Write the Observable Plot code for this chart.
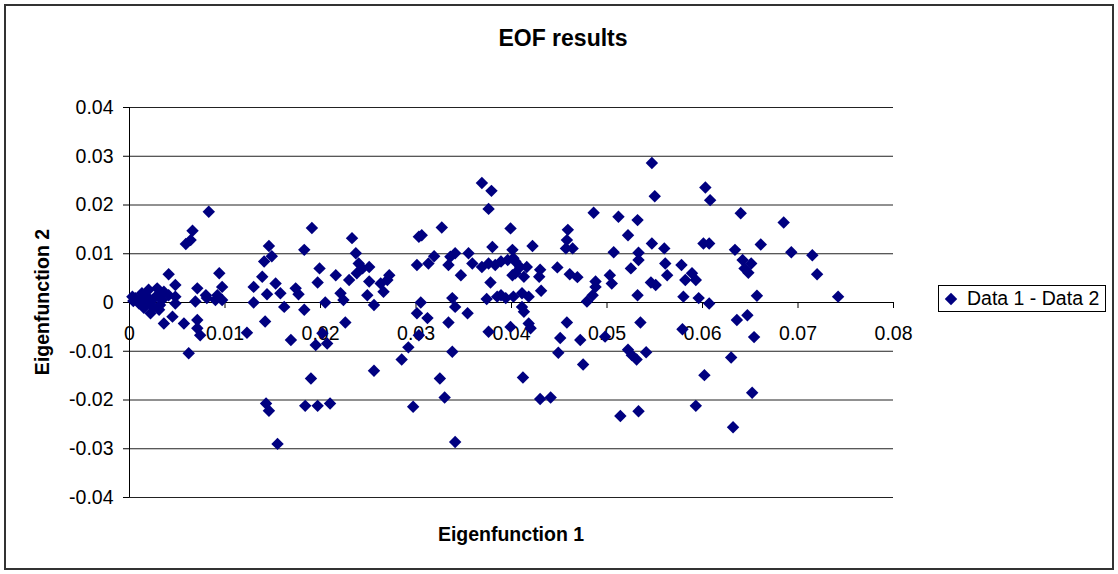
<!DOCTYPE html>
<html>
<head>
<meta charset="utf-8">
<script src="https://cdn.jsdelivr.net/npm/d3@7"></script>
<script src="https://cdn.jsdelivr.net/npm/@observablehq/plot@0.6"></script>
<style>
  html, body { margin: 0; padding: 0; background: #fff; }
  #wrap { position: relative; width: 1118px; height: 574px; font-family: "Liberation Sans", Arial, sans-serif; color: #000; }
  #frame { position: absolute; left: 4px; top: 4px; width: 1106px; height: 562px; border: 2px solid #333; }
  #chart { position: absolute; left: 0; top: 0; }
  .title { position: absolute; font-weight: bold; white-space: nowrap; }
  #legend { position: absolute; left: 938px; top: 285px; width: 166px; height: 25px; border: 1px solid #000; background: #fff;
            display: flex; align-items: center; font-size: 19.5px; white-space: nowrap; }
</style>
</head>
<body>
<div id="wrap">
  <div id="frame"></div>
  <div id="chart"></div>
  <div class="title" id="t" style="left:563px; top:38px; transform:translate(-50%,-50%); font-size:23px;">EOF results</div>
  <div class="title" id="xl" style="left:511px; top:534px; transform:translate(-50%,-50%); font-size:19.5px;">Eigenfunction 1</div>
  <div class="title" id="yl" style="left:42px; top:302px; transform:translate(-50%,-50%) rotate(-90deg); font-size:19.5px;">Eigenfunction 2</div>
  <div id="legend"><svg width="26" height="20" style="margin-left:2px"><path id="legsym" fill="#000080"></path></svg><span>Data 1 - Data 2</span></div>
</div>
<script>
const seriesName = "Data 1 - Data 2";
const eigen1 = [
0.0003,0.0006,0.0010,0.0013,0.0017,0.0020,0.0022,0.0025,0.0029,0.0029,0.0031,0.0034,0.0036,0.0012,0.0004,0.0019,0.0024,0.0015,0.0032,0.0041,
0.0048,0.0048,0.0048,0.0041,0.0071,0.0069,0.0080,0.0090,0.0097,0.0094,0.0097,0.0036,0.0045,0.0057,0.0071,0.0071,0.0074,0.0062,0.0081,0.0083,
0.0066,0.0059,0.0064,0.0092,0.0130,0.0130,0.0139,0.0141,0.0146,0.0149,0.0144,0.0153,0.0158,0.0162,0.0174,0.0177,0.0183,0.0191,0.0199,0.0197,
0.0183,0.0123,0.0142,0.0169,0.0195,0.0190,0.0143,0.0146,0.0155,0.0184,0.0197,0.0205,0.0216,0.0221,0.0224,0.0230,0.0233,0.0237,0.0240,0.0244,
0.0238,0.0251,0.0251,0.0249,0.0256,0.0263,0.0266,0.0272,0.0270,0.0226,0.0202,0.0207,0.0210,0.0256,0.0303,0.0306,0.0301,0.0313,0.0319,0.0327,
0.0305,0.0334,0.0336,0.0341,0.0347,0.0338,0.0341,0.0355,0.0359,0.0369,0.0379,0.0376,0.0380,0.0369,0.0376,0.0383,0.0389,0.0396,0.0378,0.0374,
0.0385,0.0394,0.0399,0.0401,0.0401,0.0301,0.0312,0.0303,0.0292,0.0285,0.0297,0.0334,0.0354,0.0338,0.0325,0.0330,0.0341,0.0376,0.0399,0.0404,
0.0389,0.0402,0.0409,0.0416,0.0404,0.0413,0.0411,0.0418,0.0402,0.0411,0.0422,0.0430,0.0429,0.0431,0.0448,0.0459,0.0458,0.0457,0.0464,0.0461,
0.0469,0.0486,0.0488,0.0488,0.0485,0.0479,0.0413,0.0418,0.0420,0.0412,0.0430,0.0441,0.0458,0.0451,0.0449,0.0472,0.0475,0.0498,0.0503,0.0505,
0.0507,0.0512,0.0522,0.0532,0.0533,0.0533,0.0525,0.0532,0.0547,0.0550,0.0547,0.0560,0.0561,0.0563,0.0546,0.0551,0.0578,0.0582,0.0589,0.0593,
0.0580,0.0596,0.0535,0.0522,0.0531,0.0541,0.0526,0.0514,0.0533,0.0579,0.0602,0.0593,0.0601,0.0607,0.0607,0.0603,0.0608,0.0640,0.0685,0.0634,
0.0661,0.0693,0.0715,0.0720,0.0642,0.0651,0.0644,0.0648,0.0657,0.0742,0.0636,0.0647,0.0654,0.0630,0.0652,0.0632
];
const eigen2 = [
0.0012,0.0009,-0.0002,0.0019,-0.0002,0.0026,-0.0022,-0.0009,0.0029,0.0015,-0.0015,0.0005,0.0022,0.0007,0.0003,0.0011,0.0005,-0.0011,-0.0005,0.0058,
0.0036,0.0012,-0.0002,0.0015,0.0029,0.0002,0.0015,0.0005,0.0032,0.0060,0.0005,-0.0043,-0.0029,-0.0043,-0.0036,-0.0053,-0.0067,-0.0104,0.0009,0.0186,
0.0147,0.0120,0.0128,0.0015,0.0032,0.0000,0.0053,0.0084,0.0116,0.0095,0.0017,0.0039,0.0019,-0.0009,0.0029,0.0017,0.0108,0.0153,0.0070,0.0041,
-0.0015,-0.0062,-0.0039,-0.0077,-0.0087,-0.0156,-0.0207,-0.0222,-0.0290,-0.0212,-0.0212,0.0000,0.0056,0.0019,0.0005,0.0046,0.0132,0.0101,0.0080,0.0070,
0.0060,0.0073,0.0043,0.0015,-0.0005,0.0039,0.0022,0.0056,0.0046,-0.0041,-0.0063,-0.0084,-0.0207,-0.0140,0.0135,0.0138,0.0077,0.0080,0.0095,0.0154,
0.0000,0.0077,0.0094,0.0101,0.0056,0.0009,-0.0009,0.0101,0.0080,0.0245,0.0229,0.0192,0.0114,0.0073,0.0080,0.0077,0.0084,0.0087,0.0041,0.0007,
0.0012,0.0009,0.0152,0.0108,0.0056,-0.0022,-0.0032,-0.0067,-0.0092,-0.0117,-0.0214,-0.0041,-0.0022,-0.0101,-0.0156,-0.0195,-0.0286,-0.0060,-0.0050,0.0084,
0.0015,0.0091,0.0073,0.0073,0.0060,0.0053,0.0019,0.0012,0.0012,-0.0009,0.0116,0.0067,0.0053,0.0024,0.0072,0.0149,0.0128,0.0111,0.0111,0.0058,
0.0052,0.0184,0.0043,0.0032,0.0015,0.0002,-0.0019,-0.0043,-0.0053,-0.0154,-0.0198,-0.0195,-0.0041,-0.0073,-0.0103,-0.0077,-0.0127,-0.0070,0.0056,0.0039,
0.0103,0.0176,0.0138,0.0169,0.0102,0.0087,0.0070,0.0015,0.0286,0.0218,0.0121,0.0111,0.0080,0.0056,0.0041,0.0036,0.0077,0.0046,0.0060,0.0046,
0.0012,0.0009,-0.0041,-0.0097,-0.0117,-0.0102,-0.0108,-0.0233,-0.0223,-0.0055,-0.0149,-0.0212,0.0121,0.0121,-0.0002,0.0236,0.0210,0.0183,0.0164,0.0108,
0.0119,0.0103,0.0097,0.0058,0.0087,0.0080,0.0070,0.0061,0.0014,0.0012,-0.0036,-0.0026,-0.0071,-0.0113,-0.0185,-0.0256
];
const xTicks = [0, 0.01, 0.02, 0.03, 0.04, 0.05, 0.06, 0.07, 0.08];
const xTickLabels = ["0", "0.01", "0.02", "0.03", "0.04", "0.05", "0.06", "0.07", "0.08"];
const yTicks = [-0.04, -0.03, -0.02, -0.01, 0, 0.01, 0.02, 0.03, 0.04];
const yTickLabels = ["-0.04", "-0.03", "-0.02", "-0.01", "0", "0.01", "0.02", "0.03", "0.04"];

const points = eigen1.map((x, i) => ({x, y: eigen2[i], series: seriesName}));
const FONT = "Liberation Sans, Arial, sans-serif";
const NAVY = "#000080";
const R = 5.6;

const chart = Plot.plot({
  width: 1118,
  height: 574,
  marginLeft: 129,
  marginRight: 225,
  marginTop: 107,
  marginBottom: 77,
  style: {fontFamily: FONT, background: "transparent", overflow: "visible"},
  x: {domain: [0, 0.08], axis: null},
  y: {domain: [-0.04, 0.04], axis: null},
  marks: [
    Plot.ruleY(yTicks, {y: d => d, stroke: "#222", strokeWidth: 1}),
    Plot.ruleX([0], {stroke: "#000", strokeWidth: 1}),
    Plot.ruleY([0], {stroke: "#000", strokeWidth: 1}),
    Plot.ruleY(yTicks, {y: d => d, x1: 0, x2: 0, insetLeft: -6, stroke: "#000"}),
    Plot.ruleX(xTicks, {x: d => d, y1: 0, y2: 0, insetBottom: -6, stroke: "#000"}),
    Plot.text(yTicks, {x: 0, y: d => d, text: (d, i) => yTickLabels[i], textAnchor: "end", dx: -16, fontSize: 19.5, fill: "#000"}),
    Plot.text(xTicks, {x: d => d, y: 0, text: (d, i) => xTickLabels[i], dy: 31, fontSize: 19.5, fill: "#000"}),
    Plot.dot(points, {x: "x", y: "y", symbol: "diamond2", r: R, fill: NAVY, stroke: "none"})
  ]
});
document.getElementById("chart").appendChild(chart);

// legend symbol: same diamond2 symbol via d3
const sym = d3.symbol(d3.symbolDiamond2, Math.PI * R * R)();
const ls = document.getElementById("legsym");
ls.setAttribute("d", sym);
ls.setAttribute("transform", "translate(10,10)");
</script>
</body>
</html>
